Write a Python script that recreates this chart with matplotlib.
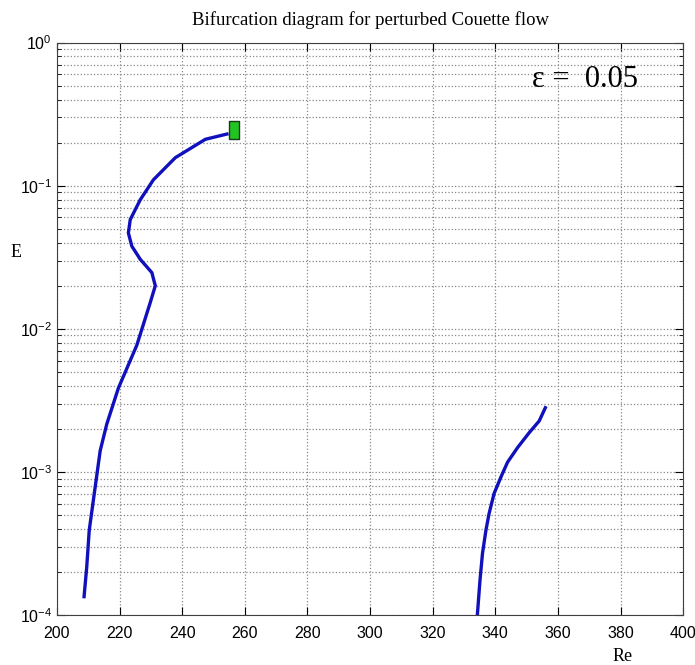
import numpy as np
import matplotlib.pyplot as plt
from matplotlib.ticker import LogLocator, NullFormatter

# left branch (Re, E)
re_left = [208.6, 209.5, 210.3, 212.2, 213.8, 215.9, 219.6, 225.5, 229.8, 231.4,
           230.3, 226.6, 223.9, 222.8, 223.4, 226.6, 230.8, 237.8, 247.4, 254.8]
e_left = [1.31e-4, 2.17e-4, 3.92e-4, 7.86e-4, 1.41e-3, 2.16e-3, 3.85e-3, 7.69e-3,
          0.0153, 0.0200, 0.0247, 0.0306, 0.0378, 0.0468, 0.058, 0.0798, 0.110,
          0.157, 0.211, 0.231]

# right branch
re_right = [334.2, 334.3, 335.1, 335.9, 337.0, 338.0, 339.6, 341.8, 343.9, 347.1,
            350.8, 354.0, 356.2]
e_right = [9.5e-5, 1.03e-4, 1.75e-4, 2.70e-4, 3.92e-4, 5.12e-4, 7.07e-4, 9.23e-4,
           1.17e-3, 1.48e-3, 1.88e-3, 2.27e-3, 2.88e-3]

# end marker
marker_re = [256.5]
marker_e = [0.246]

plt.rcParams['mathtext.default'] = 'regular'
plt.rcParams['font.family'] = 'Liberation Sans'

fig = plt.figure(figsize=(6.95, 6.65), dpi=100)
ax = fig.add_axes([0.082, 0.075, 0.901, 0.861])

ax.plot(re_left, e_left, color='#1010bc', lw=2.4, solid_capstyle='butt')
ax.plot(re_right, e_right, color='#1010bc', lw=2.4, solid_capstyle='butt')
rect = [(-0.5, -1), (0.5, -1), (0.5, 1), (-0.5, 1), (-0.5, -1)]
ax.plot(marker_re, marker_e, ls='none', marker=rect, ms=13,
        mfc='#22c422', mec='#1a3a1a', mew=1.0)

ax.set_yscale('log')
ax.set_xlim(200, 400)
ax.set_ylim(1e-4, 1)
ax.set_xticks(np.arange(200, 401, 20))
ax.yaxis.set_major_locator(LogLocator(base=10, numticks=10))
ax.yaxis.set_minor_locator(LogLocator(base=10, subs=np.arange(2, 10), numticks=10))
ax.yaxis.set_minor_formatter(NullFormatter())

ax.grid(True, which='major', ls=':', color='#888888', lw=0.9)
ax.grid(True, which='minor', axis='y', ls=':', color='#888888', lw=0.9)
ax.tick_params(which='both', direction='in', top=True, right=True, labelsize=11.5)
ax.tick_params(which='major', length=6)
ax.tick_params(which='minor', length=3)
ax.tick_params(axis='x', pad=8)
for s in ax.spines.values():
    s.set_color('#404040')

ax.set_title('Bifurcation diagram for perturbed Couette flow',
             family='Liberation Serif', fontsize=13.5, pad=13)
ax.set_ylabel('E', family='Liberation Serif', fontsize=13, rotation=0, va='center')
ax.set_xlabel('Re', family='Liberation Serif', fontsize=13)
ax.xaxis.set_label_coords(0.904, -0.058)
ax.yaxis.set_label_coords(-0.065, 0.633)

ax.text(0.758, 0.935, '\u03b5 =  0.05', transform=ax.transAxes,
        family='Liberation Serif', fontsize=22, va='center', ha='left')

fig.savefig('out.png', dpi=100)
